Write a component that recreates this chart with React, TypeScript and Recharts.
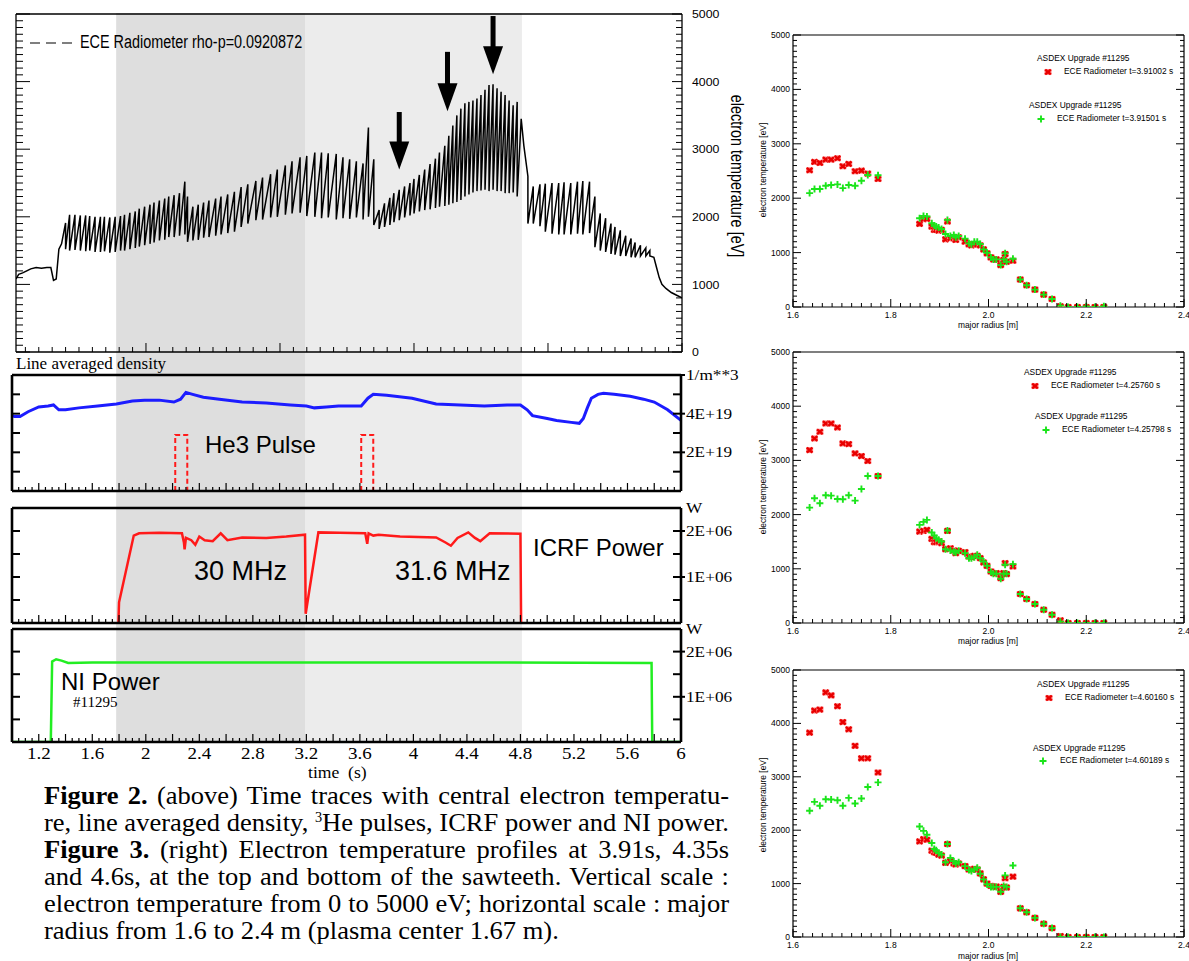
import React from 'react';
import {
  ComposedChart,
  ScatterChart,
  Line,
  Scatter,
  XAxis,
  YAxis,
  ReferenceArea,
  ReferenceLine,
} from 'recharts';

// ---------- Figure 2: time traces, shot #11295 ----------

// heating phases (s) shaded behind all four panels
const bands: [number, number, string][] = [
  [1.78, 3.19, '#dedede'],
  [3.19, 4.81, '#ececec'],
];
// He3 puff times marked with red lines
const markerTimes = [2.31, 3.7];

// central ECE electron temperature [eV]
const eceStart: [number, number][] = [
  [1.03, 1080], [1.05, 1150], [1.08, 1170], [1.11, 1200], [1.14, 1230], [1.18, 1250],
  [1.22, 1240], [1.26, 1250], [1.29, 1250], [1.31, 1060], [1.33, 1080], [1.35, 1520],
  [1.37, 1600],
];
// sawteeth: [crash time, value before crash, value after crash]
const eceTeeth: [number, number, number][] = [
  [1.40, 1910, 1520], [1.43, 2030, 1500], [1.47, 2030, 1510], [1.51, 2020, 1500], [1.55, 2020, 1490],
  [1.58, 2010, 1500], [1.62, 2000, 1480], [1.66, 2000, 1480], [1.69, 2000, 1490], [1.73, 1990, 1470],
  [1.77, 2000, 1480], [1.81, 2010, 1500], [1.84, 2030, 1500], [1.88, 2060, 1520], [1.92, 2080, 1540],
  [1.95, 2120, 1560], [1.99, 2150, 1580], [2.03, 2180, 1600], [2.06, 2210, 1620], [2.10, 2240, 1650],
  [2.14, 2270, 1660], [2.17, 2300, 1700], [2.21, 2320, 1700], [2.25, 2350, 1720], [2.29, 2520, 1740],
  [2.31, 2300, 1630], [2.35, 2150, 1650], [2.39, 2180, 1660], [2.43, 2210, 1690], [2.47, 2240, 1700],
  [2.52, 2270, 1720], [2.56, 2300, 1740], [2.61, 2330, 1760], [2.66, 2370, 1780], [2.71, 2440, 1850],
  [2.76, 2480, 1900], [2.82, 2530, 1950], [2.87, 2580, 1960], [2.93, 2630, 1990], [2.98, 2700, 2000],
  [3.04, 2760, 2030], [3.09, 2820, 2050], [3.15, 2880, 2060], [3.20, 2900, 2010], [3.26, 2950, 2000],
  [3.31, 2950, 1980], [3.36, 2940, 1990], [3.42, 2930, 1960], [3.47, 2880, 1980], [3.52, 2850, 1970],
  [3.57, 2820, 1990], [3.62, 2790, 1960], [3.66, 3320, 2000], [3.70, 2850, 1880], [3.74, 2100, 1820],
  [3.78, 2200, 1850], [3.82, 2280, 1880], [3.85, 2350, 1920], [3.89, 2400, 1950], [3.93, 2450, 1990],
  [3.97, 2500, 2020], [4.00, 2560, 2050], [4.04, 2620, 2080], [4.08, 2700, 2100], [4.12, 2780, 2110],
  [4.16, 2860, 2130], [4.19, 2950, 2150], [4.23, 3050, 2160], [4.26, 3200, 2180], [4.29, 3350, 2200],
  [4.32, 3500, 2220], [4.35, 3600, 2250], [4.38, 3680, 2300], [4.41, 3700, 2330], [4.44, 3720, 2360],
  [4.47, 3750, 2380], [4.50, 3800, 2390], [4.53, 3880, 2400], [4.56, 3950, 2380], [4.59, 3960, 2400],
  [4.62, 3900, 2380], [4.65, 3850, 2380], [4.68, 3800, 2350], [4.71, 3720, 2350], [4.74, 3650, 2360],
  [4.77, 3700, 2300], [4.80, 3450, 3450], [4.82, 3050, 3050], [4.85, 2600, 1900], [4.89, 2450, 1900],
  [4.94, 2480, 1860], [4.98, 2490, 1780], [5.03, 2500, 1750], [5.08, 2500, 1740], [5.12, 2510, 1740],
  [5.17, 2500, 1740], [5.22, 2520, 1750], [5.26, 2530, 1740], [5.31, 2520, 1760], [5.35, 2300, 1550],
  [5.39, 2050, 1500], [5.43, 1980, 1480], [5.47, 1900, 1450], [5.50, 1850, 1440], [5.54, 1800, 1420],
  [5.58, 1720, 1420], [5.62, 1680, 1400], [5.65, 1620, 1400], [5.69, 1580, 1420], [5.73, 1540, 1420],
  [5.76, 1500, 1420],
];
const eceEnd: [number, number][] = [
  [5.79, 1400], [5.81, 1250], [5.83, 1100], [5.85, 1000], [5.88, 940], [5.92, 880], [5.96, 840], [6.0, 800],
];
// arrows: [time, tail eV, tip eV]
const eceArrows: [number, number, number][] = [
  [3.89, 3550, 2700],
  [4.25, 4440, 3560],
  [4.59, 4970, 4110],
];

// line averaged density [1e19 m^-3]
const density: [number, number][] = [
  [1.0, 3.9], [1.02, 3.85], [1.06, 3.85], [1.12, 4.1], [1.2, 4.35], [1.27, 4.4], [1.31, 4.45],
  [1.35, 4.2], [1.4, 4.2], [1.5, 4.3], [1.64, 4.4], [1.78, 4.5], [1.9, 4.65], [1.99, 4.7],
  [2.1, 4.7], [2.21, 4.6], [2.26, 4.75], [2.3, 5.1], [2.35, 5.0], [2.43, 4.85], [2.55, 4.75],
  [2.72, 4.6], [2.9, 4.55], [3.08, 4.45], [3.2, 4.4], [3.26, 4.3], [3.35, 4.35], [3.44, 4.4],
  [3.61, 4.4], [3.66, 4.8], [3.7, 5.0], [3.8, 4.95], [3.99, 4.8], [4.17, 4.5], [4.35, 4.45],
  [4.53, 4.4], [4.7, 4.45], [4.8, 4.45], [4.85, 4.2], [4.89, 3.9], [5.0, 3.75], [5.07, 3.65],
  [5.18, 3.55], [5.24, 3.5], [5.27, 3.75], [5.3, 4.3], [5.33, 4.8], [5.38, 5.0], [5.42, 5.05],
  [5.5, 5.0], [5.62, 4.9], [5.72, 4.75], [5.8, 4.6], [5.9, 4.2], [6.0, 3.65],
];
const he3First: [number, number][] = [[2.22, 0], [2.22, 2.9], [2.31, 2.9], [2.31, 0]];
const he3Second: [number, number][] = [[3.61, 0], [3.61, 2.9], [3.7, 2.9], [3.7, 0]];

// ICRF power [MW]
const icrf: [number, number][] = [
  [1.795, 0], [1.8, 0.45], [1.91, 1.9], [1.95, 1.95], [2.1, 1.96], [2.27, 1.95], [2.285, 1.75],
  [2.29, 1.6], [2.3, 1.85], [2.34, 1.8], [2.37, 1.7], [2.4, 1.88], [2.44, 1.8], [2.5, 1.78],
  [2.56, 1.95], [2.61, 1.8], [2.72, 1.86], [2.9, 1.85], [3.05, 1.88], [3.19, 1.92], [3.195, 0.2],
  [3.29, 1.97], [3.45, 1.96], [3.64, 1.95], [3.655, 1.72], [3.665, 1.95], [3.7, 1.9], [3.74, 1.92],
  [3.9, 1.88], [4.17, 1.86], [4.24, 1.75], [4.28, 1.68], [4.33, 1.85], [4.41, 1.97], [4.46, 1.85],
  [4.5, 1.78], [4.57, 1.95], [4.8, 1.94], [4.805, 0],
];
// NBI power [MW]
const ni: [number, number][] = [
  [1.0, 0], [1.29, 0], [1.3, 1.78], [1.33, 1.83], [1.37, 1.8], [1.42, 1.75], [1.6, 1.76],
  [3.0, 1.76], [4.5, 1.76], [5.78, 1.75], [5.785, 0], [6.0, 0],
];

const timeLabels = [1.2, 1.6, 2, 2.4, 2.8, 3.2, 3.6, 4, 4.4, 4.8, 5.2, 5.6, 6];
const eceLabels = [0, 1000, 2000, 3000, 4000, 5000];
const densityLabels: [number, string][] = [[6, '1/m**3'], [4, '4E+19'], [2, '2E+19']];
const powerLabels: [number, string][] = [[2.5, 'W'], [2, '2E+06'], [1, '1E+06']];

// ---------- Figure 3: ECE profiles ----------
const radius = [
  1.634, 1.644, 1.655, 1.667, 1.678, 1.691, 1.702, 1.714, 1.727, 1.74, 1.753, 1.774,
  1.859, 1.867, 1.874, 1.884, 1.889, 1.893, 1.898, 1.904,
  1.912, 1.916, 1.922, 1.929, 1.933, 1.939,
  1.952, 1.96, 1.965, 1.971, 1.977, 1.983,
  1.99, 1.997, 2.005, 2.01, 2.016,
  2.025, 2.031, 2.034, 2.037, 2.05,
  2.065, 2.078, 2.095, 2.113, 2.13,
  2.147, 2.163, 2.182, 2.2, 2.218, 2.236,
];
const te391002 = [
  2513, 2667, 2649, 2710, 2710, 2735, 2587, 2630, 2495, 2507, 2452, 2353,
  1528, 1614, 1620, 1478, 1417, 1417, 1404, 1417,
  1244, 1571, 1263, 1263, 1232, 1281,
  1201, 1152, 1133, 1152, 1152, 1133,
  1059, 986, 912, 875, 875,
  770, 862, 973, 832, 850,
  505, 400, 320, 228, 148,
  12, 0, 0, 0, 0, 0,
];
const te391501 = [
  2094, 2168, 2168, 2230, 2242, 2254, 2186, 2242, 2230, 2322, 2427, 2421,
  1632, 1675, 1663, 1540, 1497, 1478, 1460, 1435,
  1342, 1601, 1305, 1324, 1281, 1305,
  1256, 1170, 1152, 1201, 1201, 1158,
  1059, 998, 912, 875, 875,
  770, 875, 986, 832, 887,
  505, 400, 320, 228, 148,
  25, 0, 0, 12, 0, 12,
];
const te425760 = [
  3190, 3405, 3528, 3681, 3681, 3607, 3313, 3301, 3129, 3080, 2988, 2712,
  1687, 1699, 1718, 1552, 1491, 1491, 1503, 1472,
  1362, 1699, 1380, 1337, 1288, 1331,
  1307, 1227, 1215, 1239, 1239, 1196,
  1117, 1055, 951, 920, 920,
  828, 920, 1104, 902, 1043,
  534, 442, 350, 245, 153,
  49, 0, 0, 0, 0, 0,
];
const te425798 = [
  2129, 2301, 2209, 2356, 2350, 2288, 2282, 2356, 2258, 2472, 2712, 2712,
  1810, 1865, 1902, 1669, 1614, 1564, 1534, 1503,
  1362, 1706, 1337, 1313, 1301, 1331,
  1288, 1196, 1196, 1215, 1258, 1196,
  1135, 1055, 939, 908, 908,
  816, 908, 1074, 908, 1086,
  534, 442, 350, 245, 153,
  25, 0, 0, 0, 0, 0,
];
const te460160 = [
  3827, 4241, 4259, 4580, 4525, 4321, 4025, 3889, 3580, 3346, 3346, 3080,
  1790, 1833, 1821, 1617, 1586, 1574, 1543, 1525,
  1389, 1741, 1420, 1377, 1358, 1377,
  1327, 1265, 1265, 1278, 1265, 1191,
  1080, 1000, 957, 944, 944,
  846, 938, 1099, 926, 1130,
  537, 463, 358, 247, 167,
  19, 0, 0, 0, 0, 0,
];
const te460189 = [
  2364, 2531, 2457, 2580, 2574, 2562, 2457, 2605, 2500, 2593, 2809, 2895,
  2068, 1988, 1914, 1759, 1648, 1623, 1574, 1543,
  1401, 1741, 1481, 1420, 1377, 1401,
  1327, 1253, 1235, 1265, 1296, 1185,
  1080, 988, 938, 938, 938,
  846, 957, 1154, 938, 1340,
  537, 463, 358, 247, 167,
  0, 0, 0, 0, 0, 0,
];
const radiusLabels = [1.6, 1.8, 2.0, 2.2, 2.4];

const profiles = [
  { red: te391002, green: te391501, tRed: '3.91002', tGreen: '3.91501', top: 20, h: 315, mt: 15, mb: 28, gap: 5,
    leg: [[1037, 59], [1048, 72, 1064], [1029, 106], [1041, 119, 1057]], yTitle: 170, xTitle: 325 },
  { red: te425760, green: te425798, tRed: '4.25760', tGreen: '4.25798', top: 338, h: 315, mt: 14, mb: 30, gap: 5,
    leg: [[1024, 373], [1035, 386, 1051], [1035, 417], [1046, 430, 1062]], yTitle: 487, xTitle: 641 },
  { red: te460160, green: te460189, tRed: '4.60160', tGreen: '4.60189', top: 655, h: 306, mt: 15, mb: 24, gap: 5,
    leg: [[1037, 685], [1049, 698, 1065], [1033, 749], [1043, 761, 1060]], yTitle: 805, xTitle: 956 },
];

// ---------- helpers ----------
const SANS = '"Liberation Sans", Arial, Helvetica, sans-serif';
const SERIF = '"Liberation Serif", "Times New Roman", serif';

const steps = (a: number, b: number, s: number) => {
  const out: number[] = [];
  for (let i = 0; a + i * s <= b + 1e-9; i++) out.push(+(a + i * s).toFixed(4));
  return out;
};
const onStep = (v: number, s: number) => Math.abs(v / s - Math.round(v / s)) < 1e-3;
const pts = (arr: [number, number][]) => arr.map(([t, v]) => ({ t, v }));

type Side = 'top' | 'bottom' | 'left' | 'right';
interface TickSpec {
  side: Side;
  step: number;
  major: number;
  minor: number;
  out?: number;
  sw?: number;
  label?: (v: number) => string | null;
  font?: string;
  size?: number;
  gap?: number;
  sx?: number;
}

// inward IDL-style tick marks, drawn with an optional label
const mkTick = (s: TickSpec) => (p: any) => {
  const { x, y, payload } = p;
  const v = payload.value as number;
  const isMajor = onStep(v, s.step);
  const len = isMajor ? s.major : s.minor;
  const out = isMajor ? s.out ?? 0 : 0;
  const dir = s.side === 'bottom' || s.side === 'right' ? -1 : 1;
  const vertical = s.side === 'top' || s.side === 'bottom';
  const a = -dir * out;
  const b = dir * len;
  const sw = s.sw ?? 1;
  const line = vertical ? (
    <line x1={x} x2={x} y1={y + a} y2={y + b} stroke="#000" strokeWidth={sw} />
  ) : (
    <line x1={x + a} x2={x + b} y1={y} y2={y} stroke="#000" strokeWidth={sw} />
  );
  const text = s.label ? s.label(v) : null;
  let lab = null;
  if (text) {
    const g = s.gap ?? 4;
    let tx = x;
    let ty = y;
    let anchor = 'middle';
    let base = 'central';
    if (s.side === 'bottom') { ty = y + g; base = 'hanging'; }
    if (s.side === 'top') { ty = y - g; base = 'alphabetic'; }
    if (s.side === 'left') { tx = x - g; anchor = 'end'; }
    if (s.side === 'right') { tx = x + g; anchor = 'start'; }
    lab = (
      <text
        transform={`translate(${tx},${ty}) scale(${s.sx ?? 1},1)`}
        textAnchor={anchor}
        dominantBaseline={base}
        fontFamily={s.font ?? SANS}
        fontSize={s.size ?? 10}
        fill="#000"
      >
        {text}
      </text>
    );
  }
  return (
    <g>
      {line}
      {lab}
    </g>
  );
};

const arrowShape = (p: any) => {
  const { x1, y1, y2 } = p;
  const head = 28;
  return (
    <g>
      <rect x={x1 - 2.5} y={y1} width={5} height={y2 - y1 - head + 2} fill="#000" />
      <path d={`M${x1 - 10},${y2 - head}L${x1 + 10},${y2 - head}L${x1},${y2}Z`} fill="#000" />
    </g>
  );
};

// shaded time window, spanning the segment's corners
const bandShape = (fill: string) => (p: any) => {
  const { x1, x2, y1, y2 } = p;
  if (![x1, x2, y1, y2].every((n) => Number.isFinite(n))) return <g />;
  return (
    <rect
      x={Math.min(x1, x2)} y={Math.min(y1, y2)} width={Math.abs(x2 - x1)} height={Math.abs(y2 - y1)}
      fill={fill}
    />
  );
};

const RedMark = (p: any) => {
  const { cx, cy } = p;
  return (
    <g>
      <rect x={cx - 3.5} y={cy - 3} width={7} height={6} fill="#ff8080" />
      <path
        d={`M${cx - 2.8},${cy - 2.4}L${cx + 2.8},${cy + 2.4}M${cx + 2.8},${cy - 2.4}L${cx - 2.8},${cy + 2.4}`}
        stroke="#e80000"
        strokeWidth={2.4}
      />
    </g>
  );
};
const GreenMark = (p: any) => {
  const { cx, cy } = p;
  return (
    <path d={`M${cx - 3.5},${cy}H${cx + 3.5}M${cx},${cy - 3.5}V${cy + 3.5}`} stroke="#1be41b" strokeWidth={1.9} />
  );
};

const at = (left: number, top: number): React.CSSProperties => ({ position: 'absolute', left, top });

function Txt(props: { x: number; y: number; size: number; font?: string; sx?: number; children: React.ReactNode }) {
  const { x, y, size, font, sx, children } = props;
  return (
    <div
      style={{
        position: 'absolute',
        left: x,
        top: y - size * 0.55,
        fontSize: size,
        lineHeight: `${size * 1.1}px`,
        fontFamily: font ?? SANS,
        whiteSpace: 'nowrap',
        transform: sx ? `scaleX(${sx})` : undefined,
        transformOrigin: 'left center',
        color: '#000',
      }}
    >
      {children}
    </div>
  );
}

function VTxt(props: { x: number; y: number; size: number; rot: number; sx?: number; children: React.ReactNode }) {
  const { x, y, size, rot, sx, children } = props;
  return (
    <div
      style={{
        position: 'absolute',
        left: x,
        top: y,
        fontSize: size,
        lineHeight: `${size * 1.2}px`,
        fontFamily: SANS,
        whiteSpace: 'nowrap',
        transform: `translate(-50%, -50%) rotate(${rot}deg) scaleX(${sx ?? 1})`,
        color: '#000',
      }}
    >
      {children}
    </div>
  );
}

// a lower panel (density / ICRF / NI) with the thick box and inward ticks
function Panel(props: {
  top: number;
  h: number;
  mt: number;
  mb: number;
  yMax: number;
  leftTicks: number[];
  rightTicks: number[];
  rightStep: number;
  rightLabels: [number, string][];
  timeAxis?: boolean;
  children: React.ReactNode;
}) {
  const { top, h, mt, mb, yMax, leftTicks, rightTicks, rightStep, rightLabels, timeAxis, children } = props;
  const box = { stroke: '#000', strokeWidth: 2.6 };
  const xt = steps(1.05, 5.95, 0.05);
  return (
    <div style={at(0, top)}>
      <ComposedChart width={760} height={h} margin={{ top: mt - 1, right: 78, bottom: mb - 1, left: 11 }}>
        <XAxis
          xAxisId="b" type="number" dataKey="t" domain={[1, 6]} allowDataOverflow
          ticks={timeAxis ? steps(1.05, 6, 0.05) : xt} interval={0} height={1} tickSize={0} tickMargin={0}
          tickLine={false} axisLine={box}
          tick={mkTick({
            side: 'bottom', step: 0.2, major: 8, minor: 4, sw: 1.2,
            label: timeAxis ? (v) => (timeLabels.some((l) => Math.abs(l - v) < 1e-6) ? String(v) : null) : undefined,
            font: SERIF, size: 17, gap: 5, sx: 1.12,
          })}
        />
        <XAxis
          xAxisId="t" orientation="top" type="number" domain={[1, 6]} allowDataOverflow
          ticks={xt} interval={0} height={1} tickSize={0} tickMargin={0} tickLine={false} axisLine={box}
          tick={mkTick({ side: 'top', step: 0.2, major: 8, minor: 4, sw: 1.2 })}
        />
        <YAxis
          yAxisId="l" type="number" domain={[0, yMax]} allowDataOverflow ticks={leftTicks} interval={0}
          width={1} tickSize={0} tickMargin={0} tickLine={false} axisLine={box}
          tick={mkTick({ side: 'left', step: leftTicks[0], major: 8, minor: 8, sw: 2 })}
        />
        <YAxis
          yAxisId="r" orientation="right" type="number" domain={[0, yMax]} allowDataOverflow ticks={rightTicks}
          interval={0} width={1} tickSize={0} tickMargin={0} tickLine={false} axisLine={box}
          tick={mkTick({
            side: 'right', step: rightStep, major: 8, minor: 8, out: 4, sw: 2,
            label: (v) => rightLabels.find(([d]) => Math.abs(d - v) < 1e-6)?.[1] ?? null,
            font: SERIF, size: 15, gap: 5, sx: 1.15,
          })}
        />
        {children}
      </ComposedChart>
    </div>
  );
}

function Profile({ cfg }: { cfg: (typeof profiles)[number] }) {
  const redData = radius.map((r, i) => ({ r, te: cfg.red[i] }));
  const greenData = radius.map((r, i) => ({ r, te: cfg.green[i] }));
  const box = { stroke: '#000', strokeWidth: 1.2 };
  const xt = steps(1.6, 2.4, 0.02);
  const yt = steps(0, 5000, 100);
  const [l1, l2, l3, l4] = cfg.leg as number[][];
  return (
    <>
      <div style={at(750, cfg.top)}>
        <ScatterChart width={439} height={cfg.h} margin={{ top: cfg.mt - 1, right: 4, bottom: cfg.mb - 1, left: 42 }}>
          <XAxis
            xAxisId="b" type="number" dataKey="r" domain={[1.6, 2.4]} allowDataOverflow ticks={xt} interval={0}
            height={1} tickSize={0} tickMargin={0} tickLine={false} axisLine={box}
            tick={mkTick({
              side: 'bottom', step: 0.2, major: 8, minor: 4,
              label: (v) => (radiusLabels.some((l) => Math.abs(l - v) < 1e-6) ? v.toFixed(1) : null),
              size: 8.5, gap: cfg.gap,
            })}
          />
          <XAxis
            xAxisId="t" orientation="top" type="number" domain={[1.6, 2.4]} allowDataOverflow ticks={xt}
            interval={0} height={1} tickSize={0} tickMargin={0} tickLine={false} axisLine={box}
            tick={mkTick({ side: 'top', step: 0.2, major: 8, minor: 4 })}
          />
          <YAxis
            yAxisId="l" type="number" dataKey="te" domain={[0, 5000]} allowDataOverflow ticks={yt} interval={0}
            width={1} tickSize={0} tickMargin={0} tickLine={false} axisLine={box}
            tick={mkTick({
              side: 'left', step: 1000, major: 8, minor: 4,
              label: (v) => (onStep(v, 1000) ? String(v) : null), size: 8.5, gap: 3,
            })}
          />
          <YAxis
            yAxisId="r" orientation="right" type="number" domain={[0, 5000]} allowDataOverflow ticks={yt}
            interval={0} width={1} tickSize={0} tickMargin={0} tickLine={false} axisLine={box}
            tick={mkTick({ side: 'right', step: 1000, major: 8, minor: 4 })}
          />
          <Scatter xAxisId="b" yAxisId="l" data={redData} dataKey="te" shape={RedMark} isAnimationActive={false} />
          <Scatter xAxisId="b" yAxisId="l" data={greenData} dataKey="te" shape={GreenMark} isAnimationActive={false} />
        </ScatterChart>
      </div>
      <VTxt x={763} y={cfg.yTitle} size={8.4} rot={-90}>electron temperature [eV]</VTxt>
      <VTxt x={988} y={cfg.xTitle} size={8.4} rot={0}>major radius [m]</VTxt>
      <Txt x={l1[0]} y={l1[1]} size={8.4}>ASDEX Upgrade #11295</Txt>
      <svg style={{ position: 'absolute', left: l2[0] - 6, top: l2[1] - 6 }} width={12} height={12}>
        <RedMark cx={6} cy={6} />
      </svg>
      <Txt x={l2[2]} y={l2[1]} size={8.4}>ECE Radiometer t={cfg.tRed} s</Txt>
      <Txt x={l3[0]} y={l3[1]} size={8.4}>ASDEX Upgrade #11295</Txt>
      <svg style={{ position: 'absolute', left: l4[0] - 6, top: l4[1] - 6 }} width={12} height={12}>
        <GreenMark cx={6} cy={6} />
      </svg>
      <Txt x={l4[2]} y={l4[1]} size={8.4}>ECE Radiometer t={cfg.tGreen} s</Txt>
    </>
  );
}

const captionLines: React.ReactNode[] = [
  <><b>Figure 2.</b> (above) Time traces with central electron temperatu-</>,
  <>re, line averaged density, <sup style={{ fontSize: 14, verticalAlign: 9, lineHeight: 0 }}>3</sup>He pulses, ICRF power and NI power.</>,
  <><b>Figure 3.</b> (right) Electron temperature profiles at 3.91s, 4.35s</>,
  <>and 4.6s, at the top and bottom of the sawteeth. Vertical scale :</>,
  <>electron temperature from 0 to 5000 eV; horizontal scale : major</>,
  <>radius from 1.6 to 2.4 m (plasma center 1.67 m).</>,
];

export default function App() {
  const eceData = [
    ...pts(eceStart),
    ...eceTeeth.flatMap(([t, top, bottom]) => [{ t, v: top }, { t, v: bottom }]),
    ...pts(eceEnd),
  ];
  // the shading chart carries the band edges as its data so both scales get a domain
  const bandEdges = bands.flatMap(([a, b]) => [{ t: a, v: 0 }, { t: b, v: 1 }]);
  const eceBox = { stroke: '#000', strokeWidth: 1.3 };
  const eceX = steps(1.1, 6.0, 0.1);
  const eceY = steps(0, 5000, 100);
  const capScale = 1.02;

  return (
    <div
      style={{
        position: 'absolute', left: 0, top: 0, width: 1189, height: 961,
        background: '#fff', overflow: 'hidden', fontFamily: SANS,
      }}
    >
      {/* heating phase shading, behind all panels */}
      <div style={at(0, 0)}>
        <ComposedChart data={bandEdges} width={760} height={750} margin={{ top: 13, right: 79, bottom: 7, left: 12 }}>
          <XAxis type="number" dataKey="t" domain={[1, 6]} allowDataOverflow hide />
          <YAxis type="number" dataKey="v" domain={[0, 1]} allowDataOverflow hide />
          {bands.map(([a, b, c]) => (
            <ReferenceArea
              key={`a${a}`} x1={a} x2={b} y1={0} y2={1} fill={c} fillOpacity={1} stroke="none" ifOverflow="visible"
            />
          ))}
          {bands.map(([a, b, c]) => (
            <ReferenceLine
              key={`l${a}`} segment={[{ x: a, y: 0 }, { x: b, y: 1 }]} shape={bandShape(c)} ifOverflow="visible"
            />
          ))}
        </ComposedChart>
      </div>

      {/* central electron temperature */}
      <div style={at(0, 0)}>
        <ComposedChart width={760} height={365} margin={{ top: 13, right: 77, bottom: 12, left: 15 }}>
          <XAxis
            xAxisId="b" type="number" dataKey="t" domain={[1.03, 6]} allowDataOverflow ticks={eceX} interval={0}
            height={1} tickSize={0} tickMargin={0} tickLine={false} axisLine={eceBox}
            tick={mkTick({ side: 'bottom', step: 1, major: 9, minor: 5 })}
          />
          <XAxis
            xAxisId="t" orientation="top" type="number" domain={[1.03, 6]} allowDataOverflow ticks={eceX}
            interval={0} height={1} tickSize={0} tickMargin={0} tickLine={false} axisLine={eceBox}
            tick={mkTick({ side: 'top', step: 1, major: 9, minor: 5 })}
          />
          <YAxis
            yAxisId="l" type="number" domain={[0, 5000]} allowDataOverflow ticks={eceY} interval={0} width={1}
            tickSize={0} tickMargin={0} tickLine={false} axisLine={eceBox}
            tick={mkTick({ side: 'left', step: 1000, major: 14, minor: 7 })}
          />
          <YAxis
            yAxisId="r" orientation="right" type="number" domain={[0, 5000]} allowDataOverflow ticks={eceY}
            interval={0} width={1} tickSize={0} tickMargin={0} tickLine={false} axisLine={eceBox}
            tick={mkTick({
              side: 'right', step: 1000, major: 10, minor: 6,
              label: (v) => (eceLabels.includes(v) ? String(v) : null), size: 11, gap: 10, sx: 1.12,
            })}
          />
          <Line
            xAxisId="b" yAxisId="l" data={eceData} dataKey="v" type="linear" stroke="#000" strokeWidth={1.5}
            dot={false} isAnimationActive={false}
          />
          {eceArrows.map(([t, from, to]) => (
            <ReferenceLine
              key={t} xAxisId="b" yAxisId="l" segment={[{ x: t, y: from }, { x: t, y: to }]}
              shape={arrowShape} ifOverflow="visible"
            />
          ))}
        </ComposedChart>
      </div>

      {/* line averaged density and He3 puffs */}
      <Panel top={368} h={130} mt={7} mb={7} yMax={6} leftTicks={[1, 2, 3, 4, 5]} rightTicks={[1, 2, 3, 4, 5, 6]}
        rightStep={2} rightLabels={densityLabels}>
        <Line xAxisId="b" yAxisId="l" data={pts(density)} dataKey="v" stroke="#1c1cff" strokeWidth={3}
          dot={false} isAnimationActive={false} />
        <Line xAxisId="b" yAxisId="l" data={pts(he3First)} dataKey="v" stroke="#ff1a1a" strokeWidth={2}
          strokeDasharray="5 3" dot={false} isAnimationActive={false} />
        <Line xAxisId="b" yAxisId="l" data={pts(he3Second)} dataKey="v" stroke="#ff1a1a" strokeWidth={2}
          strokeDasharray="5 3" dot={false} isAnimationActive={false} />
      </Panel>

      {/* ICRF power */}
      <Panel top={500} h={130} mt={8} mb={7} yMax={2.5} leftTicks={[0.5, 1, 1.5, 2]}
        rightTicks={[0.5, 1, 1.5, 2, 2.5]} rightStep={1} rightLabels={powerLabels}>
        <Line xAxisId="b" yAxisId="l" data={pts(icrf)} dataKey="v" stroke="#ff1a1a" strokeWidth={2.5}
          dot={false} isAnimationActive={false} />
      </Panel>

      {/* NI power */}
      <Panel top={620} h={160} mt={9} mb={38} yMax={2.5} leftTicks={[0.5, 1, 1.5, 2]}
        rightTicks={[0.5, 1, 1.5, 2, 2.5]} rightStep={1} rightLabels={powerLabels} timeAxis>
        <Line xAxisId="b" yAxisId="l" data={pts(ni)} dataKey="v" stroke="#22ee22" strokeWidth={2.5}
          dot={false} isAnimationActive={false} />
      </Panel>

      {/* red time markers over everything */}
      <div style={{ ...at(0, 0), pointerEvents: 'none' }}>
        <ComposedChart width={760} height={750} margin={{ top: 0, right: 79, bottom: 7, left: 12 }}>
          <XAxis type="number" dataKey="t" domain={[1, 6]} hide />
          <YAxis type="number" domain={[0, 1]} hide />
          {markerTimes.map((t) => (
            <ReferenceLine key={t} x={t} stroke="#ff0000" strokeWidth={3} />
          ))}
        </ComposedChart>
      </div>

      {/* panel annotations */}
      <svg style={{ position: 'absolute', left: 28, top: 38 }} width={48} height={10}>
        <line x1={2} y1={5} x2={44} y2={5} stroke="#000" strokeWidth={1.2} strokeDasharray="10 6" />
      </svg>
      <Txt x={80} y={43} size={18} sx={0.8}>ECE Radiometer rho-p=0.0920872</Txt>
      <VTxt x={736} y={176} size={18} rot={90} sx={0.8}>electron temperature [eV]</VTxt>
      <Txt x={16} y={364} size={17} font={SERIF}>Line averaged density</Txt>
      <Txt x={205} y={445} size={24}>He3 Pulse</Txt>
      <Txt x={194} y={572} size={27}>30 MHz</Txt>
      <Txt x={395} y={572} size={27}>31.6 MHz</Txt>
      <Txt x={533} y={548} size={24}>ICRF Power</Txt>
      <Txt x={61} y={682} size={24}>NI Power</Txt>
      <Txt x={73} y={702} size={15} font={SERIF}>#11295</Txt>
      <Txt x={308} y={773} size={16} font={SERIF} sx={1.1}>time&nbsp;&nbsp;(s)</Txt>

      {/* caption */}
      <div
        style={{
          position: 'absolute', left: 44, top: 782, width: 685 / capScale, fontFamily: SERIF, fontSize: 26,
          color: '#000', transform: `scaleX(${capScale})`, transformOrigin: 'left top',
        }}
      >
        {captionLines.map((ln, i) => (
          <div
            key={i}
            style={{
              height: 27,
              lineHeight: '27px',
              textAlign: 'justify',
              textAlignLast: i === captionLines.length - 1 ? 'left' : 'justify',
              whiteSpace: 'nowrap',
            }}
          >
            {ln}
          </div>
        ))}
      </div>

      {/* profiles */}
      {profiles.map((cfg) => (
        <Profile key={cfg.tRed} cfg={cfg} />
      ))}
    </div>
  );
}
